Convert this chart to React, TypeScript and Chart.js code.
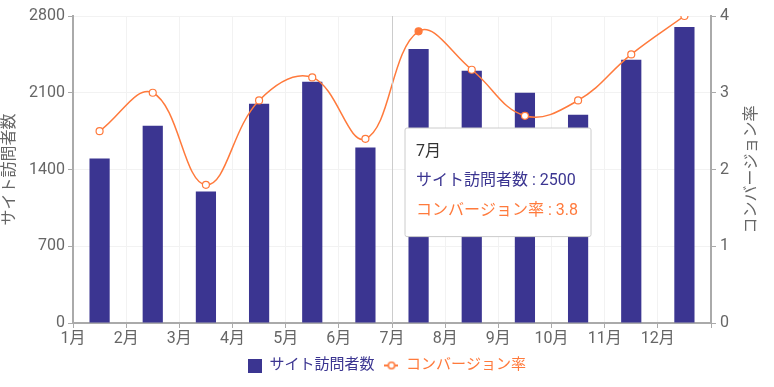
import React, { useEffect, useRef } from 'react';
import { Chart, registerables, Tooltip } from 'chart.js';
Chart.register(...registerables);

const months = ['1月', '2月', '3月', '4月', '5月', '6月', '7月', '8月', '9月', '10月', '11月', '12月'];
const visitors = [1500, 1800, 1200, 2000, 2200, 1600, 2500, 2300, 2100, 1900, 2400, 2700];
const conversion = [2.5, 3.0, 1.8, 2.9, 3.2, 2.4, 3.8, 3.3, 2.7, 2.9, 3.5, 4.0];
const visitorsLabel = 'サイト訪問者数';
const conversionLabel = 'コンバージョン率';
const leftMax = 2800;
const leftStep = 700;
const rightMax = 4;
const rightStep = 1;
const activeIndex = 6;

const INDIGO = '#3b3591';
const ORANGE = '#ff7a3c';
const FONT = "Roboto, 'Noto Sans CJK JP', sans-serif";
const FS = 16;

function makeSquare() {
  const c = document.createElement('canvas');
  c.width = 14; c.height = 14;
  const ctx = c.getContext('2d')!;
  ctx.fillStyle = INDIGO;
  ctx.fillRect(0, 0, 14, 14);
  return c;
}
function makeLineMarker() {
  const c = document.createElement('canvas');
  c.width = 14; c.height = 14;
  const ctx = c.getContext('2d')!;
  ctx.strokeStyle = ORANGE;
  ctx.lineWidth = 2;
  ctx.beginPath(); ctx.moveTo(0, 7); ctx.lineTo(14, 7); ctx.stroke();
  ctx.fillStyle = '#fff';
  ctx.lineWidth = 1.5;
  ctx.beginPath(); ctx.arc(7, 7, 3.2, 0, Math.PI * 2); ctx.fill(); ctx.stroke();
  return c;
}

(Tooltip as any).positioners.axisPointer = function (this: any) {
  const chart = this.chart;
  const xs = chart.scales.x;
  const bw = (xs.right - xs.left) / months.length;
  const px = xs.getPixelForValue(activeIndex) - bw / 2;
  return { x: px + 15, y: chart.chartArea.top + 112, xAlign: 'left', yAlign: 'top' };
};

const pointerPlugin = {
  id: 'pointerLine',
  afterDatasetsDraw(chart: any) {
    const xs = chart.scales.x;
    const bw = (xs.right - xs.left) / months.length;
    const px = Math.round(xs.getPixelForValue(activeIndex) - bw / 2) + 0.5;
    const ctx = chart.ctx;
    ctx.save();
    ctx.strokeStyle = '#cccccc';
    ctx.lineWidth = 1;
    ctx.beginPath();
    ctx.moveTo(px, chart.chartArea.top);
    ctx.lineTo(px, chart.chartArea.bottom);
    ctx.stroke();
    ctx.restore();
  },
  afterDraw(chart: any) {
    const ca = chart.chartArea;
    const ctx = chart.ctx;
    ctx.save();
    ctx.translate(chart.width - 22, (ca.top + ca.bottom) / 2);
    ctx.rotate(-Math.PI / 2);
    ctx.fillStyle = '#666';
    ctx.font = `${FS}px ${FONT}`;
    ctx.textAlign = 'center';
    ctx.textBaseline = 'middle';
    ctx.fillText(conversionLabel, 0, 0);
    ctx.restore();
  },
};

export default function App() {
  const ref = useRef<HTMLCanvasElement>(null);
  useEffect(() => {
    document.body.style.margin = '0';
    const square = makeSquare();
    const lineMarker = makeLineMarker();
    const chart = new Chart(ref.current!, {
      type: 'bar',
      data: {
        labels: months,
        datasets: [
          {
            type: 'bar',
            label: visitorsLabel,
            data: visitors,
            backgroundColor: INDIGO,
            hoverBackgroundColor: INDIGO,
            borderWidth: 0,
            barPercentage: 0.38,
            categoryPercentage: 1,
            yAxisID: 'y',
            order: 2,
          },
          {
            type: 'line',
            label: conversionLabel,
            data: conversion,
            borderColor: ORANGE,
            borderWidth: 1.5,
            backgroundColor: '#fff',
            pointBackgroundColor: '#fff',
            pointBorderColor: ORANGE,
            pointBorderWidth: 1.2,
            pointRadius: 3.5,
            pointHoverRadius: 3.5,
            pointHoverBackgroundColor: ORANGE,
            pointHoverBorderColor: ORANGE,
            pointHoverBorderWidth: 1.2,
            tension: 0.4,
            yAxisID: 'y2',
            order: 1,
          },
        ],
      },
      options: {
        animation: false,
        responsive: true,
        maintainAspectRatio: false,
        events: [],
        layout: { padding: { top: 16, bottom: 4, left: 0, right: 0 } },
        scales: {
          x: {
            type: 'category',
            offset: true,
            grid: { offset: true, color: '#f2f2f2', tickColor: '#aaaaaa', tickLength: 5 },
            border: { color: '#aaaaaa', width: 2 },
            ticks: { color: '#666', font: { family: FONT, size: FS }, labelOffset: -26.6, maxRotation: 0, autoSkip: false, padding: 1 },
            afterFit: (s: any) => { s.height = 25; },
          },
          y: {
            position: 'left',
            min: 0,
            max: leftMax,
            ticks: { stepSize: leftStep, color: '#666', font: { family: FONT, size: FS }, padding: 3, callback: (v: any) => String(v) },
            grid: { color: '#f2f2f2', tickColor: '#aaaaaa', tickLength: 5 },
            border: { color: '#aaaaaa', width: 2 },
            title: { display: true, text: visitorsLabel, color: '#666', font: { family: FONT, size: FS }, padding: 0 },
            afterFit: (s: any) => { s.width = 73; },
          },
          y2: {
            position: 'right',
            min: 0,
            max: rightMax,
            ticks: { stepSize: rightStep, color: '#666', font: { family: FONT, size: FS }, padding: 4, callback: (v: any) => String(v) },
            grid: { drawOnChartArea: false, tickColor: '#aaaaaa', tickLength: 5 },
            border: { color: '#aaaaaa', width: 2 },
            title: { display: false, text: conversionLabel },
            afterFit: (s: any) => { s.width = 63; },
          },
        },
        plugins: {
          legend: {
            position: 'bottom',
            labels: {
              font: { family: FONT, size: 15 },
              usePointStyle: true,
              boxWidth: 14,
              boxHeight: 14,
              padding: 10,
              generateLabels: () => [
                { text: visitorsLabel, fontColor: INDIGO, pointStyle: square, datasetIndex: 0, hidden: false, lineWidth: 0, strokeStyle: 'transparent', fillStyle: INDIGO } as any,
                { text: conversionLabel, fontColor: ORANGE, pointStyle: lineMarker, datasetIndex: 1, hidden: false, lineWidth: 0, strokeStyle: 'transparent', fillStyle: ORANGE } as any,
              ],
            },
          },
          tooltip: {
            enabled: true,
            mode: 'index',
            intersect: false,
            position: 'axisPointer' as any,
            backgroundColor: '#ffffff',
            borderColor: '#cccccc',
            borderWidth: 1,
            cornerRadius: 2,
            caretSize: 0,
            caretPadding: 0,
            displayColors: false,
            titleColor: '#333',
            titleFont: { family: FONT, size: FS, weight: 'normal' },
            bodyFont: { family: FONT, size: FS },
            titleMarginBottom: 10,
            bodySpacing: 11,
            padding: { top: 14, bottom: 16, left: 11, right: 13 },
            callbacks: {
              label: (item: any) => `${item.dataset.label} : ${item.raw}`,
              labelTextColor: (item: any) => (item.datasetIndex === 0 ? INDIGO : ORANGE),
            },
          },
        },
      },
      plugins: [pointerPlugin],
    });
    const els = [
      { datasetIndex: 0, index: activeIndex },
      { datasetIndex: 1, index: activeIndex },
    ];
    chart.setActiveElements([{ datasetIndex: 1, index: activeIndex }]);
    chart.tooltip!.setActiveElements(els, { x: 0, y: 0 });
    chart.update();
    return () => chart.destroy();
  }, []);
  return (
    <div style={{ width: 774, height: 387, position: 'relative' }}>
      <canvas ref={ref} />
    </div>
  );
}
